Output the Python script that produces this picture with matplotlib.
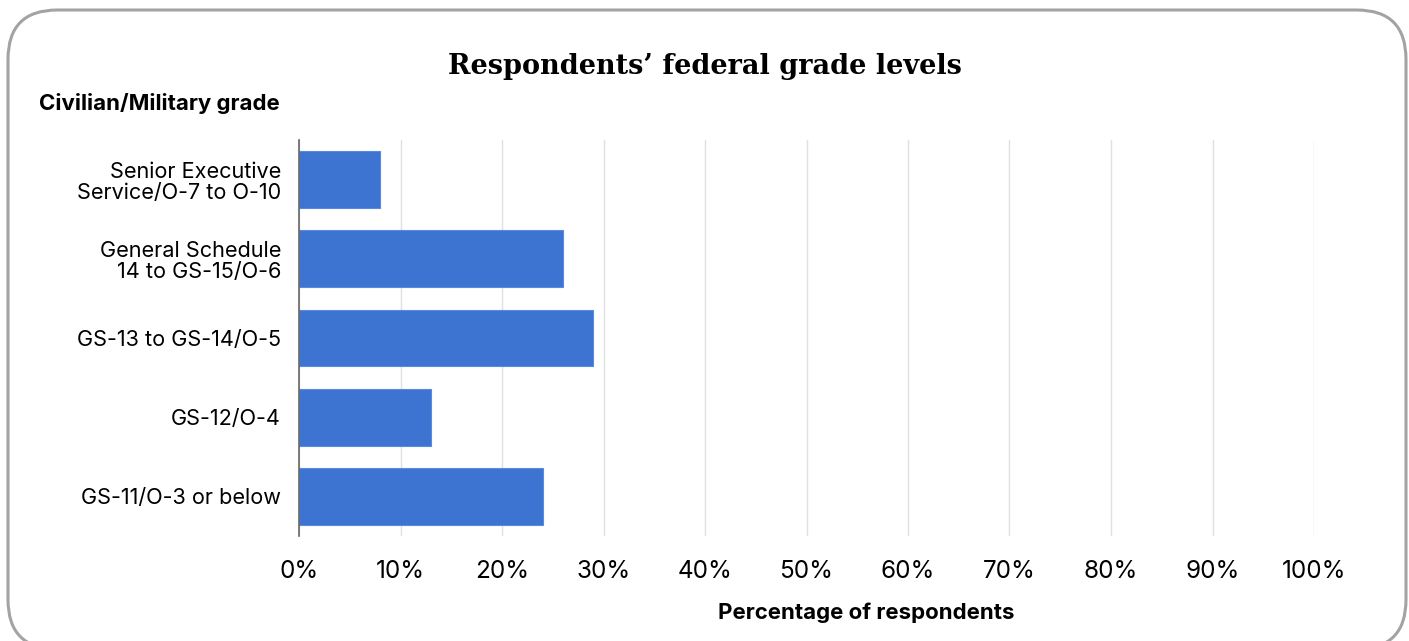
import matplotlib.pyplot as plt
from matplotlib.patches import FancyBboxPatch
from matplotlib.ticker import FuncFormatter

plt.rcParams["font.family"] = ["Inter", "DejaVu Sans"]

# data
categories = [
    "Senior Executive\nService/O-7 to O-10",
    "General Schedule\n14 to GS-15/O-6",
    "GS-13 to GS-14/O-5",
    "GS-12/O-4",
    "GS-11/O-3 or below",
]
values = [8, 26, 29, 13, 24]
xticks = list(range(0, 101, 10))

fig = plt.figure(figsize=(14.09, 6.41), dpi=100)

# rounded frame (bottom edge sits just below the image)
frame = FancyBboxPatch((8 / 1409, -8 / 641), 1398 / 1409, 1 - 2 / 641,
                       boxstyle="round,pad=0,rounding_size=0.035",
                       transform=fig.transFigure, facecolor="white",
                       edgecolor="#a3a3a3", linewidth=2.2,
                       mutation_aspect=1409 / 641, zorder=-10)
fig.patches.append(frame)

ax = fig.add_axes([299 / 1409, 1 - 536 / 641, 1015 / 1409, 396 / 641])
ax.set_facecolor("none")

y = list(range(len(categories)))
ax.barh(y, values, height=0.715, color="#3d74d1", edgecolor="#5a8ae0",
        linewidth=0.8, zorder=3)

ax.set_xlim(0, 100)
ax.set_ylim(len(categories) - 0.5, -0.5)
ax.set_xticks(xticks)
ax.xaxis.set_major_formatter(FuncFormatter(lambda v, p: f"{int(v)}%"))
ax.set_yticks(y)
ax.set_yticklabels(categories, fontsize=15.6, linespacing=1.1)
ax.tick_params(axis="x", labelsize=17.5, length=0, pad=17)
ax.tick_params(axis="y", length=0, pad=13)
ax.grid(axis="x", color="#e0e0e0", linewidth=1, zorder=0)
for s in ["top", "right", "bottom"]:
    ax.spines[s].set_visible(False)
ax.spines["left"].set_color("#666666")
ax.spines["left"].set_linewidth(1.2)
ax.spines["left"].set_zorder(4)

fig.text(705 / 1409, 1 - 66 / 641, "Respondents\u2019 federal grade levels",
         ha="center", va="center", fontsize=19.5, fontweight="bold",
         family=["DejaVu Serif"])
fig.text(280 / 1409, 1 - 104 / 641, "Civilian/Military grade",
         ha="right", va="center", fontsize=16, fontweight="bold")
fig.text(866 / 1409, 1 - 613 / 641, "Percentage of respondents",
         ha="center", va="center", fontsize=16, fontweight="bold")

fig.savefig("out.png", dpi=100)
